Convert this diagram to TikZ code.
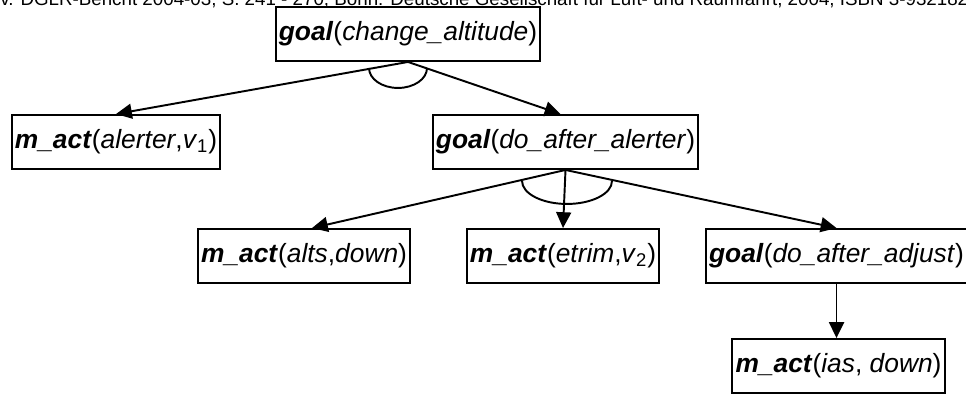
\documentclass[tikz,border=0pt]{standalone}
\usepackage{fontspec}
\setmainfont{Liberation Sans}
\usepackage{tikz}
\usetikzlibrary{arrows.meta,positioning,calc}

\newcommand{\pred}[1]{\textbf{\textit{#1}}}
\newcommand{\argm}[1]{\textit{#1}}

\begin{document}
\begin{tikzpicture}[x=0.02cm, y=-0.02cm,
    box/.style={draw, line width=1.1pt, minimum height=1.08cm, inner xsep=1.8pt,
      font=\fontsize{15}{18}\selectfont},
    arr/.style={-{Triangle[length=9pt,width=8.5pt]}, line width=1.1pt},
    andarc/.style={line width=1.1pt}]
      \useasboundingbox (0,0) rectangle (966,394);
      \clip (0,0) rectangle (966,394);
      % running head of the page
      \node[anchor=base west, inner sep=0pt, font=\fontsize{10.68}{13}\selectfont] (head) at (0,6)
        {v. DGLR-Bericht 2004-03, S. 241 - 270, Bonn: Deutsche Gesellschaft für Luft- und Raumfahrt, 2004, ISBN 3-932182};
      % goal tree
      \node[box] (top) at (408,34) {\pred{goal}(\argm{change\_altitude})};
      \node[box] (alerter) at (116,142) {\pred{m\_act}(\argm{alerter},\argm{v}\textsubscript{1})};
      \node[box] (aftalert) at (565.5,142) {\pred{goal}(\argm{do\_after\_alerter})};
      \node[box] (alts) at (304,256) {\pred{m\_act}(\argm{alts},\argm{down})};
      \node[box] (etrim) at (563,256) {\pred{m\_act}(\argm{etrim},\argm{v}\textsubscript{2})};
      \node[box, anchor=west] (aftadj) at (705,256) {\pred{goal}(\argm{do\_after\_adjust})};
      \node[box] (ias) at (838.5,366) {\pred{m\_act}(\argm{ias}, \argm{down})};
      \draw[arr] (top.south) -- (alerter.north);
      \draw[arr] (top.south) -- ([xshift=-0.1cm]aftalert.north);
      \draw[andarc] ($(top.south)+(19,6)$) arc[start angle=0, end angle=-180, x radius=0.58cm, y radius=0.4cm];
      \draw[arr] (aftalert.south) -- ([xshift=0.16cm]alts.north);
      \draw[arr] (aftalert.south) -- (etrim.north);
      \draw[arr] (aftalert.south) -- (aftadj.north);
      \draw[andarc] ($(aftalert.south)+(46.5,11)$) arc[start angle=0, end angle=-180, x radius=0.9cm, y radius=0.46cm];
      \draw[arr] (aftadj.south) -- (aftadj.south |- ias.north);
    \end{tikzpicture}
\end{document}
